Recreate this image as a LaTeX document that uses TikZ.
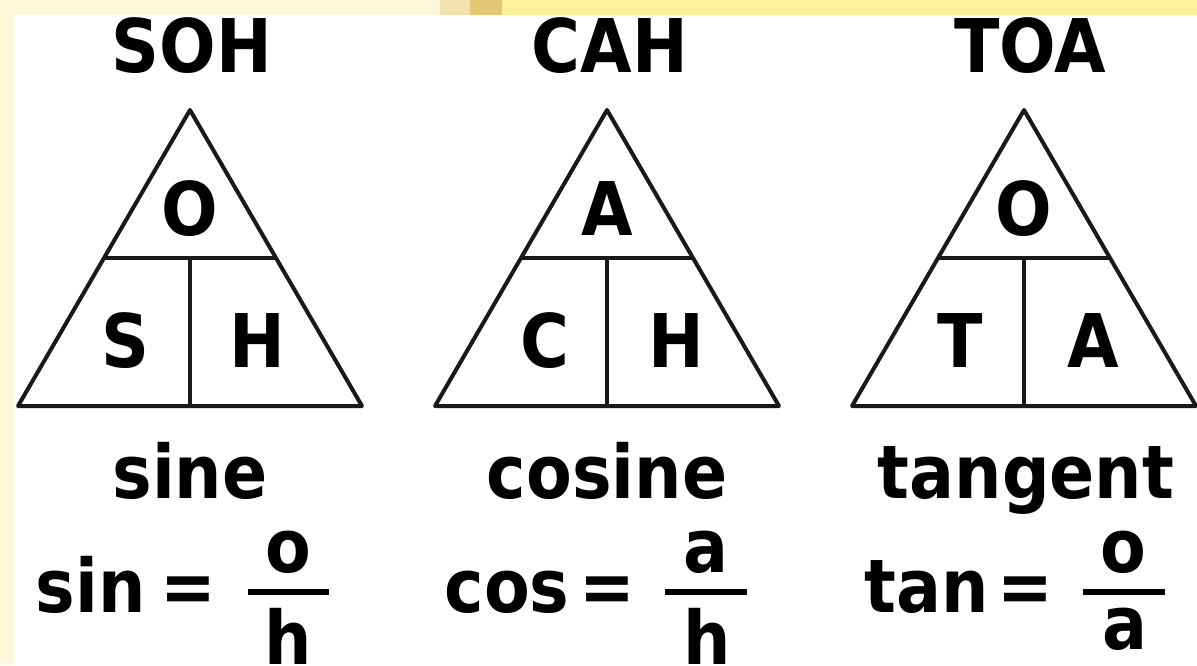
\documentclass[tikz,border=0pt]{standalone}
\usepackage{fontspec}
\setmainfont{DejaVu Sans}[FakeStretch=0.9]
\usetikzlibrary{positioning}
\definecolor{creamband}{HTML}{FFF8D8}
\definecolor{tanband}{HTML}{F3E2B0}
\definecolor{goldband}{HTML}{E6C674}
\definecolor{yellowband}{HTML}{FFF09E}
\tikzset{
  lbl/.style={font=\fontsize{37}{44}\selectfont\bfseries,inner sep=0pt,anchor=base},
  edge/.style={line width=2pt,draw=black!90,line join=round},
  barline/.style={line width=3pt,draw=black}
}
\begin{document}
\begin{tikzpicture}[x=0.5pt,y=-0.5pt]
  \useasboundingbox (0,0) rectangle (1197,665);
  % background bands
  \fill[white] (0,0) rectangle (1197,665);
  \fill[creamband] (0,0) rectangle (14,665);
  \fill[creamband] (0,0) rectangle (440,15);
  \fill[tanband] (440,0) rectangle (470,15);
  \fill[goldband] (470,0) rectangle (502,15);
  \fill[yellowband] (502,0) rectangle (1197,15);
  \def\W{172}
  % SOH
  \begin{scope}[shift={(190,0)}]
    \draw[edge] (0,110) -- (\W,406) -- (-\W,406) -- cycle;
    \draw[edge] (-86,258) -- (86,258) (0,258) -- (0,406);
    \node[lbl] (sohT) at (2,72) {SOH};
    \node[lbl] (sohO) at (0,235) {O};
    \node[lbl] (sohS) at (-65,367) {S};
    \node[lbl] (sohH) at (67,367) {H};
    \node[lbl] (sohName) at (0,498) {sine};
    \node[lbl] (sohEq) at (-2,612) {=};
    \node[lbl,anchor=base east] (sohFn) at (-44,612) {sin};
    \node[lbl] (sohNum) at (98,572) {o};
    \coordinate (sohBarL) at (58,592);
    \coordinate (sohBarR) at (139,592);
    \draw[barline] (sohBarL) -- (sohBarR);
    \node[lbl,anchor=north] (sohDen) at (98,608) {h};
  \end{scope}
  % CAH
  \begin{scope}[shift={(607,0)}]
    \draw[edge] (0,110) -- (\W,406) -- (-\W,406) -- cycle;
    \draw[edge] (-86,258) -- (86,258) (0,258) -- (0,406);
    \node[lbl] (cahT) at (3,72) {CAH};
    \node[lbl] (cahA) at (0,235) {A};
    \node[lbl] (cahC) at (-62,367) {C};
    \node[lbl] (cahH) at (69,367) {H};
    \node[lbl] (cahName) at (0,498) {cosine};
    \node[lbl] (cahEq) at (0,612) {=};
    \node[lbl,anchor=base east] (cahFn) at (-37,612) {cos};
    \node[lbl] (cahNum) at (99,572) {a};
    \coordinate (cahBarL) at (58,592);
    \coordinate (cahBarR) at (140,592);
    \draw[barline] (cahBarL) -- (cahBarR);
    \node[lbl,anchor=north] (cahDen) at (100,608) {h};
  \end{scope}
  % TOA
  \begin{scope}[shift={(1024,0)}]
    \draw[edge] (0,110) -- (\W,406) -- (-\W,406) -- cycle;
    \draw[edge] (-86,258) -- (86,258) (0,258) -- (0,406);
    \node[lbl] (toaT) at (6,72) {TOA};
    \node[lbl] (toaO) at (0,235) {O};
    \node[lbl] (toaTl) at (-64,367) {T};
    \node[lbl] (toaA) at (69,367) {A};
    \node[lbl] (toaName) at (2,498) {tangent};
    \node[lbl] (toaEq) at (1,612) {=};
    \node[lbl,anchor=base east] (toaFn) at (-35,612) {tan};
    \node[lbl] (toaNum) at (99,572) {o};
    \coordinate (toaBarL) at (59,592);
    \coordinate (toaBarR) at (141,592);
    \draw[barline] (toaBarL) -- (toaBarR);
    \node[lbl,anchor=north] (toaDen) at (101,608) {a};
  \end{scope}
\end{tikzpicture}
\end{document}
